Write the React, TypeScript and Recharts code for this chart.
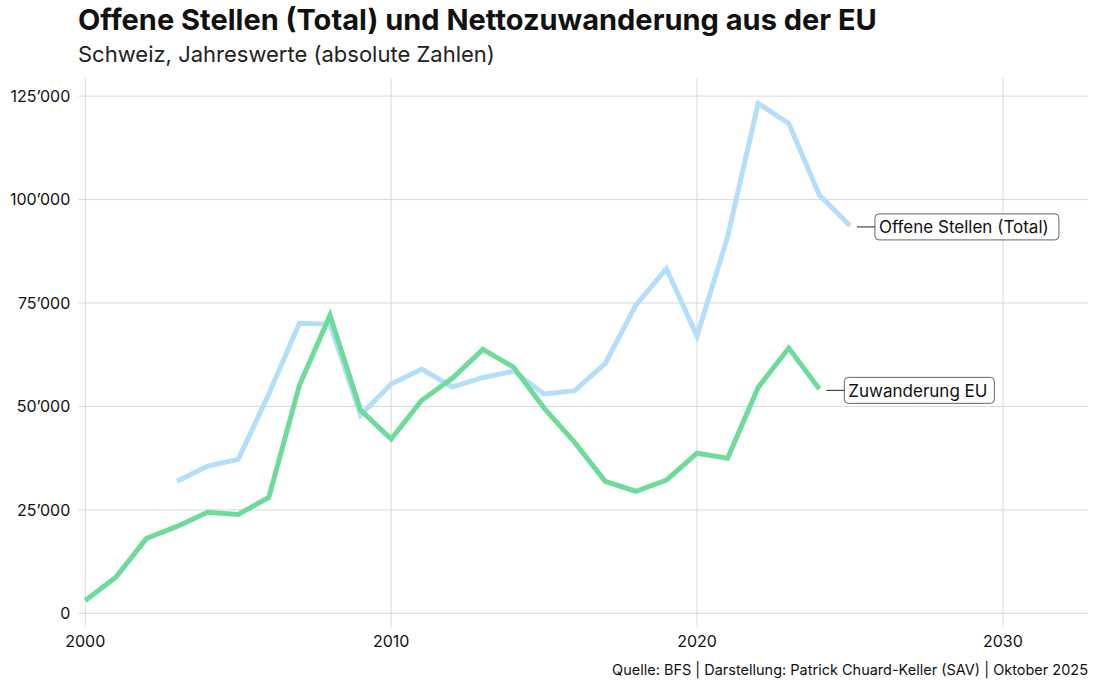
import React from "react";
import { LineChart, Line, XAxis, YAxis, ReferenceLine } from "recharts";

const years = [2000,2001,2002,2003,2004,2005,2006,2007,2008,2009,2010,2011,2012,2013,2014,2015,2016,2017,2018,2019,2020,2021,2022,2023,2024,2025];
const offeneStellen: (number | null)[] = [null,null,null,31900,35600,37200,53000,70100,69900,47900,55400,59000,54700,57000,58500,53000,53800,60400,74500,83300,67000,91000,123200,118400,101100,93700];
const zuwanderungEU: (number | null)[] = [3100,8700,18100,21000,24400,23900,28000,55100,72000,49100,42100,51500,56800,63800,59500,49600,41300,31900,29500,32200,38700,37500,54600,64100,54200,null];
const xTicks = [2000, 2010, 2020, 2030];
const yTicks = [0, 25000, 50000, 75000, 100000, 125000];

const data = years.map((y, i) => ({ year: y, os: offeneStellen[i], eu: zuwanderungEU[i] }));

const FONT = "Inter, 'Noto Sans', sans-serif";
const GRID = "#d9d9d9";

const fmt = (v: number) => {
  const s = Math.round(v).toString();
  return s.replace(/\B(?=(\d{3})+(?!\d))/g, "\u2019");
};

const XTick = (props: any) => {
  const { x, y, payload } = props;
  return (
    <text x={x} y={y} dy="0.71em" textAnchor="middle" fontFamily={FONT} fontSize={16} fill="#111">
      {payload.value}
    </text>
  );
};

const YTick = (props: any) => {
  const { x, y, payload } = props;
  return (
    <text x={x} y={y} dy="0.36em" textAnchor="end" fontFamily={FONT} fontSize={16} fill="#111">
      {fmt(payload.value)}
    </text>
  );
};

const makeLabel = (text: string, boxW: number, series: (number | null)[]) => (props: any) => {
  const { x, y, index } = props;
  let last = -1;
  series.forEach((v, i) => { if (v != null) last = i; });
  if (index !== last) return null;
  const bx = x + 25;
  const h = 26;
  const cy = y + 1.3;
  return (
    <g>
      <line x1={x + 7} y1={cy} x2={bx} y2={cy} stroke="#222" strokeWidth={1} />
      <rect x={bx} y={cy - h / 2} width={boxW} height={h} rx={4} ry={4} fill="#fff" stroke="#666" strokeWidth={1} />
      <text x={bx + 4} y={cy + 6.5} fontFamily={FONT} fontSize={17} fill="#111">{text}</text>
    </g>
  );
};

export default function App() {
  return (
    <div style={{ position: "absolute", left: 0, top: 0, width: 1094, height: 685, background: "#fff", fontFamily: FONT, overflow: "hidden" }}>
      <div style={{ position: "absolute", left: 78, top: 5, fontSize: 29, lineHeight: 1, fontWeight: 700, color: "#111", whiteSpace: "nowrap" }}>
        Offene Stellen (Total) und Nettozuwanderung aus der EU
      </div>
      <div style={{ position: "absolute", left: 78, top: 43, fontSize: 22, lineHeight: 1, color: "#222", whiteSpace: "nowrap" }}>
        Schweiz, Jahreswerte (absolute Zahlen)
      </div>
      <div style={{ position: "absolute", left: 0, top: 0 }}>
        <LineChart width={1094} height={685} data={data} margin={{ top: 77.5, right: 5.5, bottom: 41.7, left: 0.3 }}>
          {yTicks.map((t) => (
            <ReferenceLine key={"h" + t} y={t} stroke={GRID} strokeWidth={1} />
          ))}
          {xTicks.map((t) => (
            <ReferenceLine key={"v" + t} x={t} stroke={GRID} strokeWidth={1} />
          ))}
          <XAxis dataKey="year" type="number" domain={[2000, 2032.8]} ticks={xTicks} axisLine={false}
            tickLine={{ stroke: GRID }} tickSize={14} tickMargin={8} tick={<XTick />} height={30} />
          <YAxis type="number" domain={[0, 129500]} ticks={yTicks} axisLine={false}
            tickLine={{ stroke: GRID }} tickSize={7} tickMargin={8} width={85} tick={<YTick />} />
          <Line dataKey="os" stroke="#b5defb" strokeWidth={5} dot={false} isAnimationActive={false}
            label={makeLabel("Offene Stellen (Total)", 184, offeneStellen)} />
          <Line dataKey="eu" stroke="#6fdb9b" strokeWidth={5} dot={false} isAnimationActive={false}
            label={makeLabel("Zuwanderung EU", 150, zuwanderungEU)} />
        </LineChart>
      </div>
      <div style={{ position: "absolute", left: 85, top: 77, width: 1010, height: 1, background: "#fff" }} />
      <div style={{ position: "absolute", left: 1088, top: 70, width: 6, height: 560, background: "#fff" }} />
      <div style={{ position: "absolute", right: 6, top: 662.5, fontSize: 14.5, lineHeight: 1, color: "#111", whiteSpace: "nowrap" }}>
        Quelle: BFS | Darstellung: Patrick Chuard-Keller (SAV) | Oktober 2025
      </div>
    </div>
  );
}
